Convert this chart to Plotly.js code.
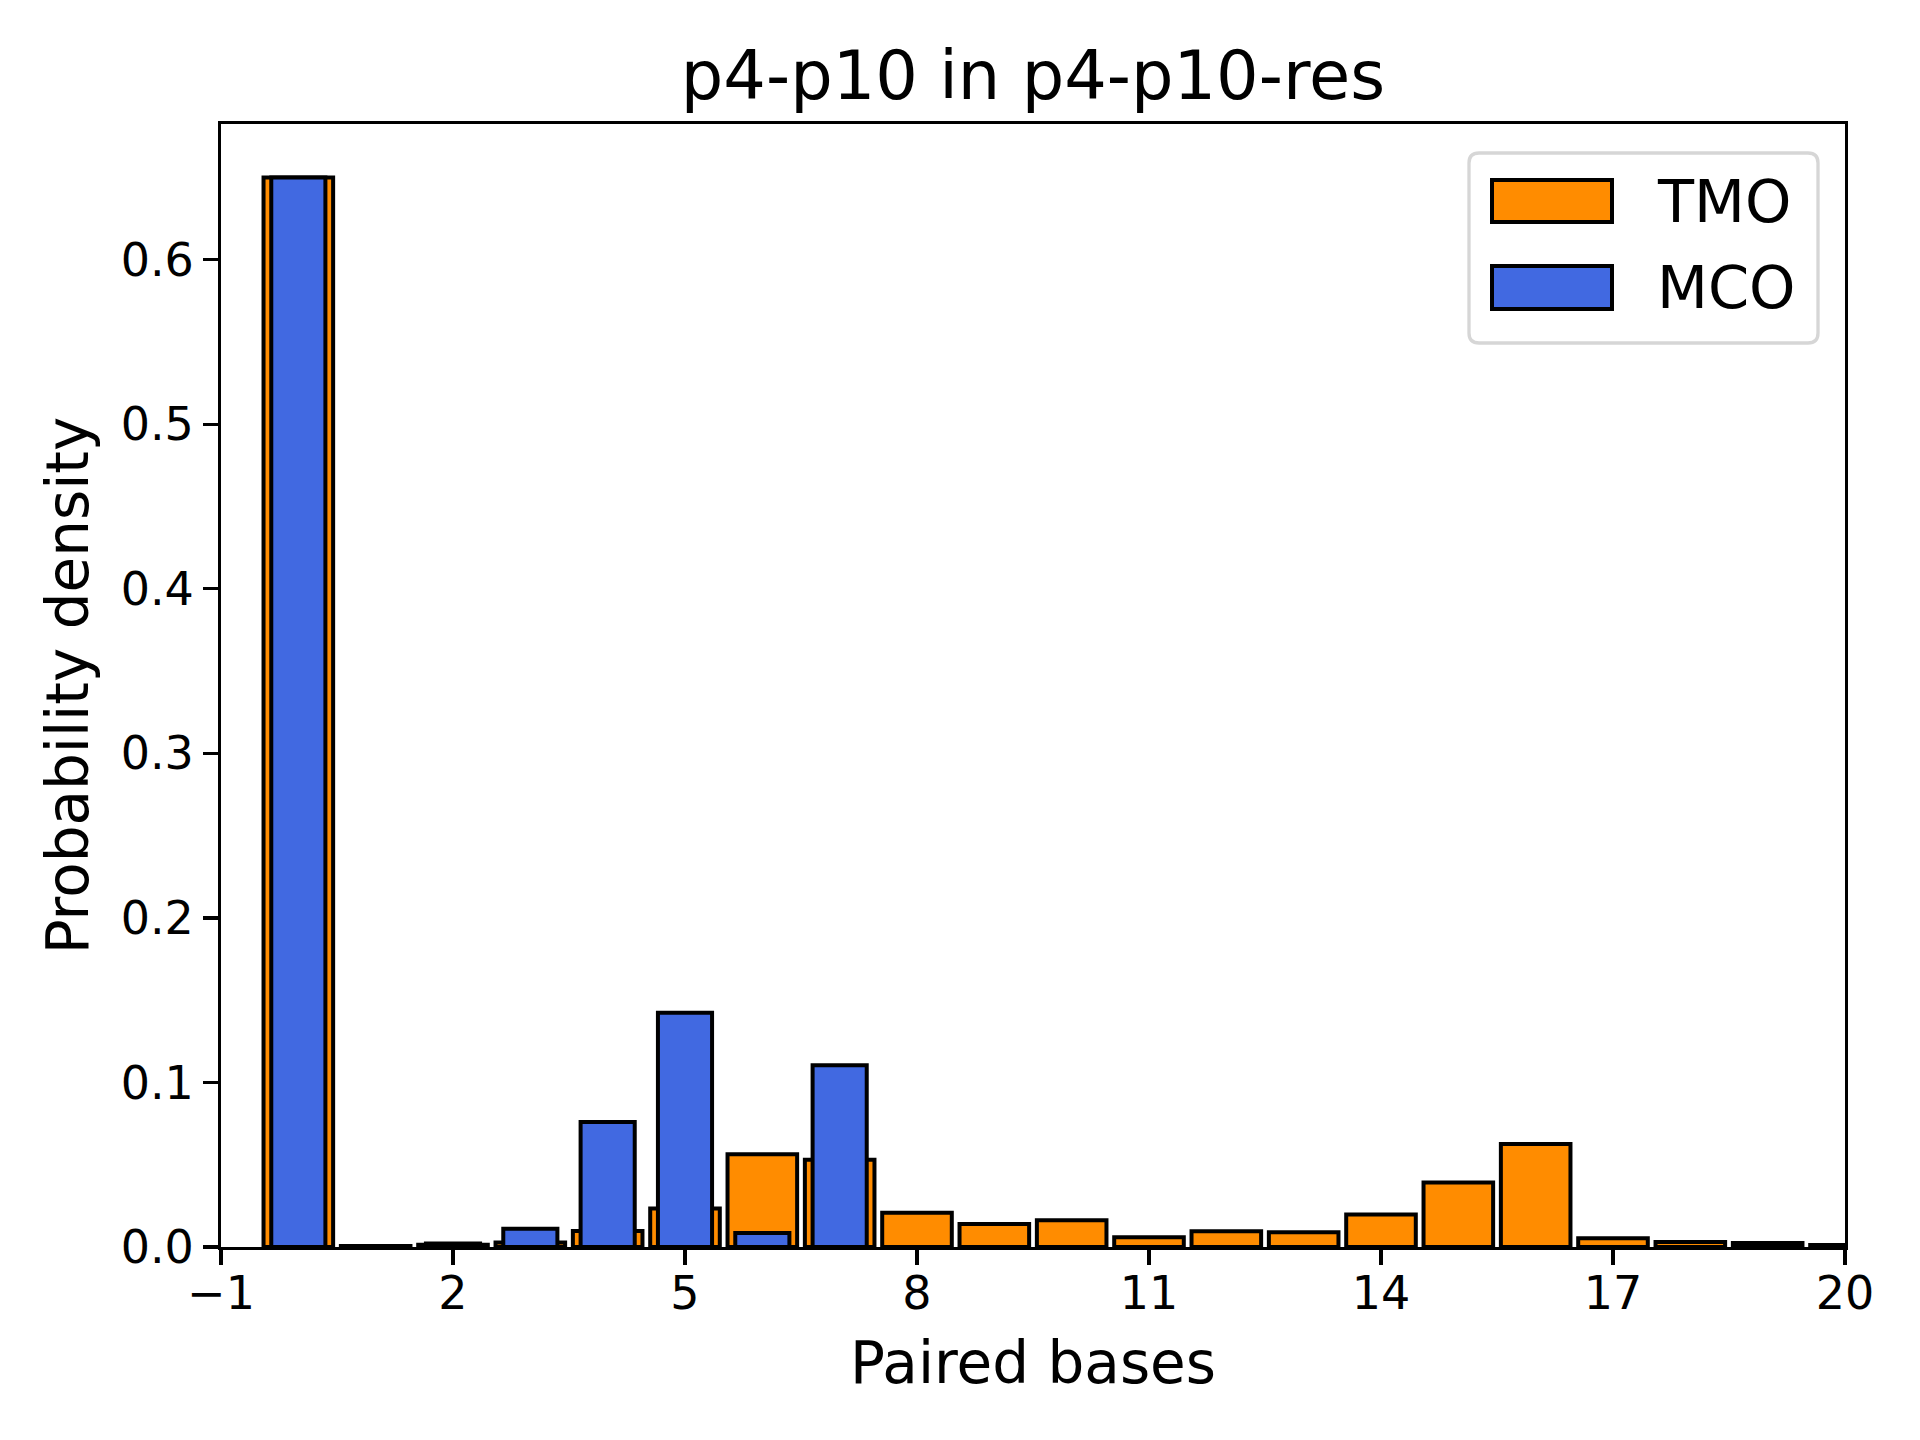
<!DOCTYPE html>
<html>
<head>
<meta charset="utf-8">
<script src="https://cdn.plot.ly/plotly-3.0.1.min.js"></script>
<style>
  html, body { margin: 0; padding: 0; background: #ffffff; }
  #plot { width: 1920px; height: 1440px; }
</style>
</head>
<body>
<div id="plot"></div>
<script>
// paired-base bins and densities
const bins = [0, 1, 2, 3, 4, 5, 6, 7, 8, 9, 10, 11, 12, 13, 14, 15, 16, 17, 18, 19, 20];
const tmoValues = [
  0.650, 0.0006, 0.0013, 0.0028, 0.0097, 0.0234, 0.0564, 0.0530, 0.0208, 0.0140, 0.0162,
  0.0059, 0.0095, 0.0089, 0.0198, 0.0392, 0.0626, 0.0053, 0.0030, 0.0024, 0.0012,
];
const mcoBins = [0, 1, 2, 3, 4, 5, 6, 7];
const mcoValues = [0.650, 0, 0.0022, 0.0111, 0.0760, 0.1424, 0.0085, 0.1105];

const seriesNames = ["TMO", "MCO"];
const seriesColors = ["#ff8c00", "#4169e1"];

const FONT = '"DejaVu Sans", "Liberation Sans", sans-serif';

// plot area in page pixels
const area = { left: 221, right: 1845, top: 124, bottom: 1247 };
const px = (x) => (x - area.left) / (area.right - area.left);
const py = (y) => (area.bottom - y) / (area.bottom - area.top);

function roundedBox(x0, y0, x1, y1, r) {
  const rx = r / (area.right - area.left);
  const ry = r / (area.bottom - area.top);
  const a = px(x0), b = px(x1), top = py(y0), bot = py(y1);
  return `M${a + rx},${top} L${b - rx},${top} Q${b},${top} ${b},${top - ry} ` +
    `L${b},${bot + ry} Q${b},${bot} ${b - rx},${bot} L${a + rx},${bot} ` +
    `Q${a},${bot} ${a},${bot + ry} L${a},${top - ry} Q${a},${top} ${a + rx},${top} Z`;
}

function legendItems() {
  const shapes = [{
    type: "path", xref: "paper", yref: "paper",
    path: roundedBox(1469, 153, 1818, 343, 10),
    fillcolor: "rgba(255,255,255,0.8)",
    line: { color: "#d6d6d6", width: 3.3 },
    layer: "above",
  }];
  const annotations = [];
  const rows = [[180, 222], [266, 309]];
  rows.forEach(([y0, y1], i) => {
    shapes.push({
      type: "rect", xref: "paper", yref: "paper",
      x0: px(1492), x1: px(1612), y0: py(y1), y1: py(y0),
      fillcolor: seriesColors[i],
      line: { color: "#000000", width: 4 },
      layer: "above",
    });
    annotations.push({
      xref: "paper", yref: "paper",
      x: px(1655), y: py((y0 + y1) / 2),
      xanchor: "left", yanchor: "middle",
      text: seriesNames[i], showarrow: false,
      font: { family: FONT, size: 59, color: "#000000" },
    });
  });
  return { shapes, annotations };
}

function axisConfig(title, standoff, extra) {
  return Object.assign({
    title: {
      text: title, standoff: standoff,
      font: { family: FONT, size: 58, color: "#000000" },
    },
    showgrid: false,
    zeroline: false,
    showline: true,
    linecolor: "#000000",
    linewidth: 3.3,
    mirror: true,
    ticks: "outside",
    ticklen: 14.6,
    tickwidth: 3.3,
    tickcolor: "#000000",
    tickfont: { family: FONT, size: 46, color: "#000000" },
    automargin: false,
    fixedrange: true,
  }, extra);
}

const traces = [
  {
    type: "bar", name: seriesNames[0], x: bins, y: tmoValues, width: 0.9,
    marker: { color: seriesColors[0], opacity: 1, line: { color: "#000000", width: 4 } },
  },
  {
    type: "bar", name: seriesNames[1], x: mcoBins, y: mcoValues, width: 0.7,
    marker: { color: seriesColors[1], opacity: 1, line: { color: "#000000", width: 4 } },
  },
];

const legend = legendItems();

const layout = {
  width: 1920,
  height: 1440,
  paper_bgcolor: "#ffffff",
  plot_bgcolor: "#ffffff",
  font: { family: FONT, color: "#000000" },
  barmode: "overlay",
  showlegend: false,
  title: {
    text: "p4-p10 in p4-p10-res",
    font: { family: FONT, size: 67, color: "#000000" },
    xref: "paper", x: 0.5, xanchor: "center",
    yref: "container", y: 1 - 99 / 1440, yanchor: "bottom",
  },
  xaxis: axisConfig("Paired bases", 24, {
    range: [-1, 20], tick0: -1, dtick: 3, ticklabelstandoff: -11,
  }),
  yaxis: axisConfig("Probability density", 14, {
    range: [0, 0.6825], tick0: 0, dtick: 0.1, tickformat: ".1f",
  }),
  margin: {
    l: area.left, r: 1920 - area.right, t: area.top, b: 1440 - area.bottom, pad: 0,
  },
  shapes: legend.shapes,
  annotations: legend.annotations,
};

Plotly.newPlot("plot", traces, layout, { displayModeBar: false, staticPlot: true });
</script>
</body>
</html>
